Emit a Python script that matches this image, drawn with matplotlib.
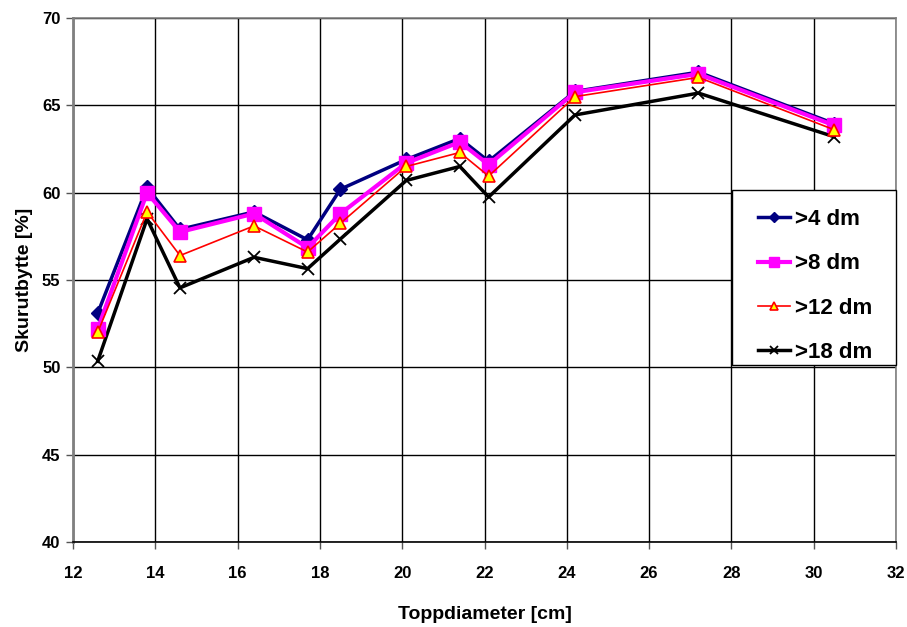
import numpy as np
import matplotlib.pyplot as plt
from matplotlib.patches import Rectangle

# data
diam = [12.6, 13.8, 14.6, 16.4, 17.7, 18.5, 20.1, 21.4, 22.1, 24.2, 27.2, 30.5]
gt4 = [53.1, 60.3, 57.9, 58.9, 57.3, 60.2, 61.9, 63.1, 61.8, 65.8, 66.9, 63.95]
gt8 = [52.2, 60.0, 57.75, 58.8, 56.85, 58.8, 61.7, 62.9, 61.6, 65.75, 66.8, 63.85]
gt12 = [52.0, 58.9, 56.4, 58.1, 56.6, 58.25, 61.5, 62.3, 60.95, 65.5, 66.6, 63.6]
gt18 = [50.35, 58.5, 54.55, 56.3, 55.65, 57.35, 60.7, 61.5, 59.75, 64.45, 65.7, 63.2]
labels = ['>4 dm', '>8 dm', '>12 dm', '>18 dm']

plt.rcParams['font.family'] = ['Liberation Sans', 'DejaVu Sans']
plt.rcParams['font.weight'] = 'bold'

fig = plt.figure(figsize=(9.07, 6.27), dpi=100)
ax = fig.add_axes([73/907, 1-542/627, 823/907, 524/627])

ax.plot(diam, gt4, color='#000080', lw=2.5, marker='D', ms=7, mfc='#000080', mec='#000080', label=labels[0], zorder=3)
ax.plot(diam, gt8, color='#FF00FF', lw=3, marker='s', ms=10, mfc='#FF00FF', mec='#FF00FF', label=labels[1], zorder=4)
ax.plot(diam, gt12, color='#FF0000', lw=1.2, marker='^', ms=8, mfc='#FFFF00', mec='#FF0000', mew=1.2, label=labels[2], zorder=5)
ax.plot(diam, gt18, color='black', lw=2.5, marker='x', ms=8, mew=1.3, label=labels[3], zorder=2)

ax.set_xlim(12, 32)
ax.set_ylim(40, 70)
ax.set_xticks(np.arange(12, 33, 2))
ax.set_yticks(np.arange(40, 71, 5))
ax.grid(True, color='black', lw=1)
ax.set_axisbelow(True)
for s in ax.spines.values():
    s.set_color('#808080')
    s.set_linewidth(1.2)
ax.spines['left'].set_linewidth(2)
ax.spines['bottom'].set_color('black')
ax.tick_params(direction='out', length=5, width=1, color='#555555', labelsize=12, pad=4)
ax.tick_params(axis='x', pad=12)

ax.set_xlabel('Toppdiameter [cm]', fontsize=14, fontweight='bold', labelpad=18)
ax.set_ylabel('Skurutbytte [%]', fontsize=14, fontweight='bold', labelpad=6.5)

# legend box (frame drawn separately to get the wider side padding)
ax.add_patch(Rectangle((0.8007, 0.338), 0.1993, 0.334, transform=ax.transAxes,
                       facecolor='white', edgecolor='black', lw=1, zorder=6, clip_on=False))
leg = ax.legend(loc='upper left', bbox_to_anchor=(0.8323, 0.6355), frameon=False,
                borderpad=0, labelspacing=1.05, handlelength=1.45,
                handletextpad=0.2, borderaxespad=0, markerscale=0.7,
                prop={'weight': 'bold', 'size': 16})
leg.set_zorder(7)

fig.savefig('out.png', dpi=100)
